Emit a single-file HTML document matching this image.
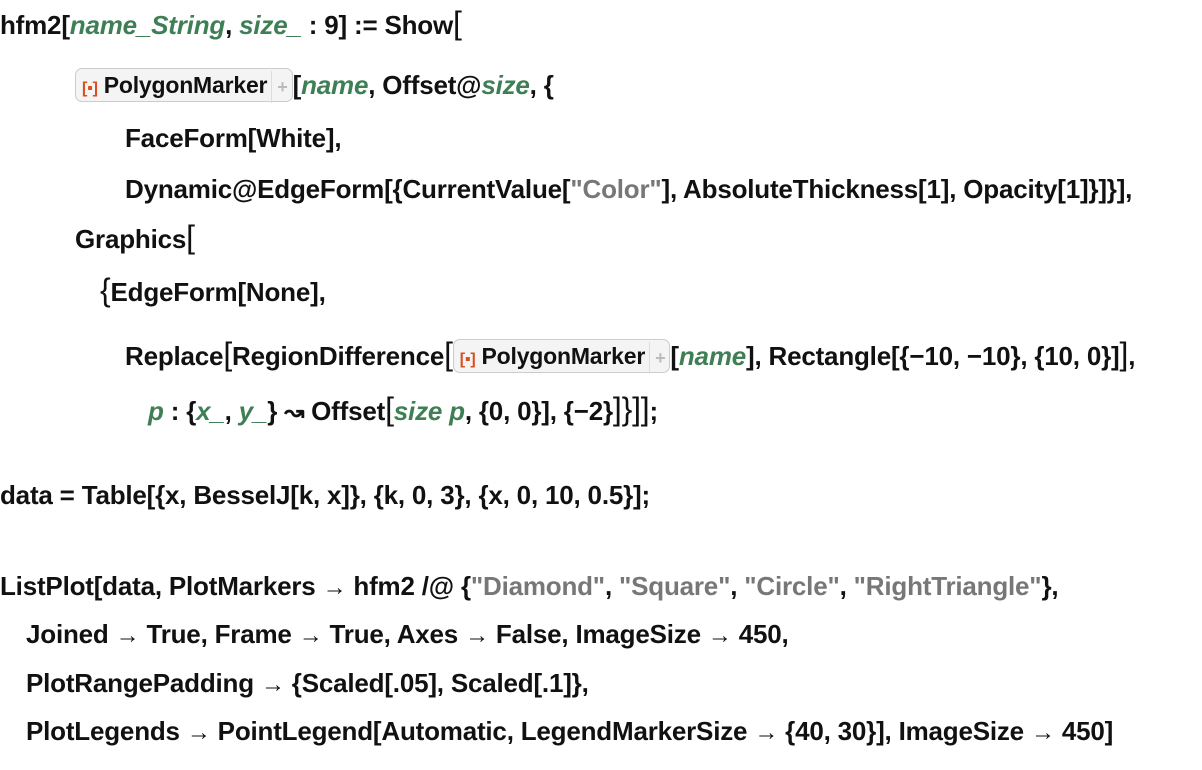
<!DOCTYPE html>
<html><head><meta charset="utf-8"><style>
html,body{margin:0;padding:0;background:#fff;width:1202px;height:770px;overflow:hidden}
.l{position:absolute;white-space:nowrap;font-family:"Liberation Sans",sans-serif;font-size:26px;font-weight:bold;line-height:28px;color:#111;letter-spacing:-0.2px}
.g{color:#3f7f55;font-style:italic}
.s{color:#777}
.a{font-size:24px;font-weight:bold}
.b{display:inline-block;background:#f4f4f4;border:1px solid #ccc;border-radius:7px;padding:0 4px 0 6px;height:32px;line-height:32px;vertical-align:middle;margin-top:-4px;font-size:23px}
.b .ic{color:#d9501e;font-size:16px;margin-right:6px}
.b .pl{display:inline-block;border-left:1px solid #ddd;color:#bbb;padding-left:5px;margin-left:4px;font-size:18px}
.br{font-size:32px;line-height:28px;font-weight:normal}
</style></head><body>
<div class="l" style="left:0;top:9px">hfm2[<span class="g">name_String</span>, <span class="g">size_</span> : 9] := Show<span class="br">[</span></div>
<div class="l" style="left:75px;top:71px"><span class="b"><span class="ic">[&#9642;]</span>PolygonMarker<span class="pl">+</span></span>[<span class="g">name</span>, Offset@<span class="g">size</span>, {</div>
<div class="l" style="left:125px;top:124px">FaceForm[White],</div>
<div class="l" style="left:125px;top:175px">Dynamic@EdgeForm[{CurrentValue[<span class="s">"Color"</span>], AbsoluteThickness[1], Opacity[1]}]}],</div>
<div class="l" style="left:75px;top:223px">Graphics<span class="br">[</span></div>
<div class="l" style="left:100px;top:276px"><span class="br">{</span>EdgeForm[None],</div>
<div class="l" style="left:125px;top:340px">Replace<span class="br">[</span>RegionDifference<span class="br">[</span><span class="b"><span class="ic">[&#9642;]</span>PolygonMarker<span class="pl">+</span></span>[<span class="g">name</span>], Rectangle[{&minus;10, &minus;10}, {10, 0}]<span class="br">]</span>,</div>
<div class="l" style="left:148px;top:395px"><span class="g">p</span> : {<span class="g">x_</span>, <span class="g">y_</span>} <span class="a">&#8605;</span> Offset<span class="br">[</span><span class="g">size p</span>, {0, 0}], {&minus;2}<span class="br">]}]]</span>;</div>
<div class="l" style="left:0;top:481px">data = Table[{x, BesselJ[k, x]}, {k, 0, 3}, {x, 0, 10, 0.5}];</div>
<div class="l" style="left:0;top:572px">ListPlot[data, PlotMarkers <span class="a">&rarr;</span> hfm2 /@ {<span class="s">"Diamond"</span>, <span class="s">"Square"</span>, <span class="s">"Circle"</span>, <span class="s">"RightTriangle"</span>},</div>
<div class="l" style="left:26px;top:620px">Joined <span class="a">&rarr;</span> True, Frame <span class="a">&rarr;</span> True, Axes <span class="a">&rarr;</span> False, ImageSize <span class="a">&rarr;</span> 450,</div>
<div class="l" style="left:26px;top:669px">PlotRangePadding <span class="a">&rarr;</span> {Scaled[.05], Scaled[.1]},</div>
<div class="l" style="left:26px;top:717px">PlotLegends <span class="a">&rarr;</span> PointLegend[Automatic, LegendMarkerSize <span class="a">&rarr;</span> {40, 30}], ImageSize <span class="a">&rarr;</span> 450]</div>
</body></html>
